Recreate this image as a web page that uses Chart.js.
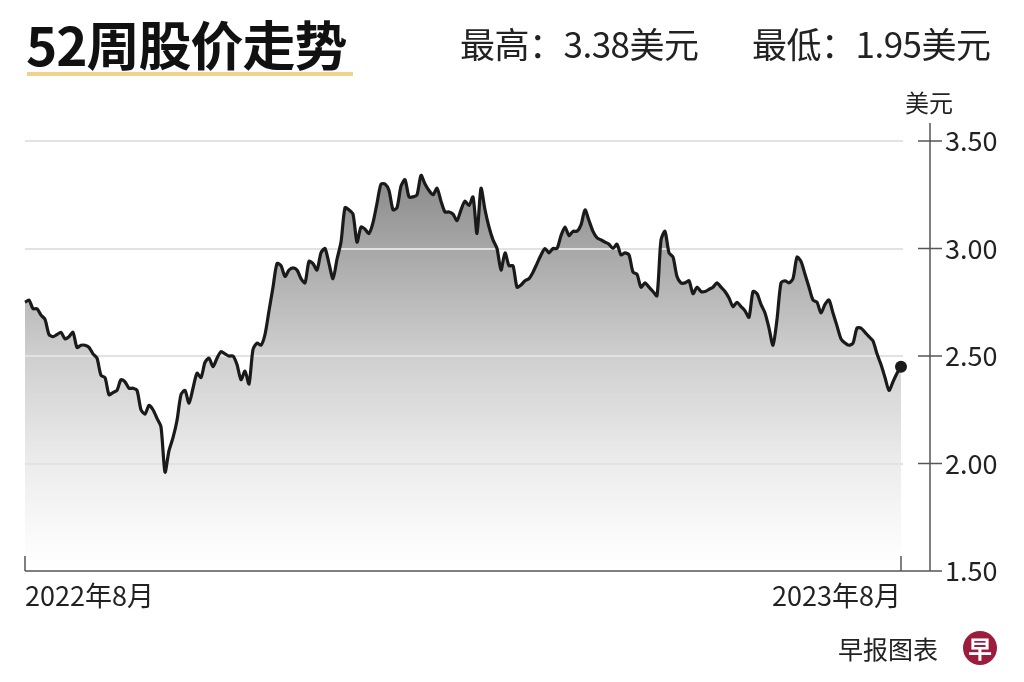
<!DOCTYPE html>
<html>
<head>
<meta charset="utf-8">
<script src="https://cdn.jsdelivr.net/npm/chart.js@4"></script>
<style>
    body { margin: 0; background: #fff; }
    #wrap { position: relative; width: 1024px; height: 682px; overflow: hidden; font-family: "Liberation Sans Narrow", "Noto Sans CJK SC", sans-serif; color: #222; }
    #chart { position: absolute; left: 0; top: 0; }
    .title { position: absolute; left: 26px; top: 5px; font: bold 53px "Noto Sans CJK SC", sans-serif; color: #111; letter-spacing: -1px; }
    .bar { position: absolute; left: 27px; top: 72px; width: 326px; height: 4px; background: #f1d48c; }
    .stat { position: absolute; top: 17px; font-size: 35px; letter-spacing: -0.5px; }
    .unit { position: absolute; left: 905px; top: 84px; font-size: 24px; }
    .credit { position: absolute; left: 838px; top: 630px; font-size: 25px; }
    .logo { position: absolute; left: 963px; top: 631px; width: 34px; height: 34px; border-radius: 50%; background: #9b1c3d; color: #fff; font: bold 24px "Noto Sans CJK SC", sans-serif; text-align: center; line-height: 34px; }
</style>
</head>
<body>
<div id="wrap">
    <canvas id="chart" width="1024" height="682"></canvas>
    <div class="title">52周股价走势</div>
    <div class="bar"></div>
    <div class="stat" style="left:460px">最高：3.38美元</div>
    <div class="stat" style="left:752px">最低：1.95美元</div>
    <div class="unit">美元</div>
    <div class="credit">早报图表</div>
    <div class="logo">早</div>
</div>
<script>
    // daily closing price, Aug 2022 -> Aug 2023
    let prices = [
        2.75, 2.76, 2.72, 2.72, 2.69, 2.67, 2.60, 2.59, 2.60, 2.61,
        2.58, 2.59, 2.61, 2.54, 2.55, 2.55, 2.54, 2.51, 2.49, 2.41,
        2.40, 2.32, 2.33, 2.34, 2.39, 2.38, 2.35, 2.35, 2.34, 2.25,
        2.23, 2.27, 2.25, 2.21, 2.17, 1.96, 2.06, 2.12, 2.20, 2.32,
        2.34, 2.28, 2.35, 2.42, 2.40, 2.47, 2.49, 2.45, 2.49, 2.52,
        2.51, 2.50, 2.50, 2.46, 2.39, 2.43, 2.37, 2.53, 2.56, 2.55,
        2.60, 2.71, 2.82, 2.93, 2.92, 2.87, 2.90, 2.91, 2.90, 2.86,
        2.84, 2.94, 2.93, 2.90, 2.98, 3.00, 2.93, 2.86, 2.95, 3.03,
        3.19, 3.18, 3.16, 3.03, 3.10, 3.09, 3.07, 3.12, 3.21, 3.30,
        3.30, 3.27, 3.18, 3.19, 3.29, 3.32, 3.24, 3.24, 3.25, 3.34,
        3.30, 3.27, 3.25, 3.28, 3.22, 3.17, 3.17, 3.16, 3.13, 3.18,
        3.22, 3.20, 3.24, 3.07, 3.28, 3.18, 3.10, 3.04, 3.00, 2.90,
        2.98, 2.92, 2.92, 2.82, 2.83, 2.85, 2.86, 2.89, 2.93, 2.97,
        3.00, 2.98, 3.00, 3.00, 3.06, 3.10, 3.06, 3.08, 3.08, 3.11,
        3.18, 3.13, 3.08, 3.05, 3.04, 3.03, 3.02, 3.00, 3.02, 2.97,
        2.98, 2.97, 2.89, 2.88, 2.82, 2.84, 2.82, 2.80, 2.78, 3.04,
        3.08, 2.98, 2.96, 2.87, 2.84, 2.84, 2.85, 2.79, 2.82, 2.80,
        2.80, 2.81, 2.82, 2.84, 2.82, 2.80, 2.77, 2.73, 2.75, 2.73,
        2.71, 2.68, 2.80, 2.79, 2.74, 2.70, 2.63, 2.55, 2.67, 2.84,
        2.85, 2.84, 2.86, 2.96, 2.94, 2.88, 2.82, 2.76, 2.75, 2.70,
        2.74, 2.76, 2.70, 2.64, 2.58, 2.56, 2.55, 2.56, 2.63, 2.63,
        2.61, 2.59, 2.57, 2.51, 2.46, 2.40, 2.34, 2.38, 2.42, 2.45
    ];
    let days = prices.map((p, i) => i);
    let tickLabels = ['2022年8月', '2023年8月'];
    let yTicks = [1.5, 2.0, 2.5, 3.0, 3.5];

    let fontFamily = '"Liberation Sans Narrow", "Noto Sans CJK SC", sans-serif';

    // gridlines over the fill, then the custom axes on the right/bottom
    let axesPlugin = {
        id: 'axes',
        beforeDatasetDraw(chart) {
            let c = chart.ctx;
            let area = chart.chartArea;
            let y = chart.scales.y;
            c.save();
            c.strokeStyle = '#e2e2e2';
            c.lineWidth = 2;
            yTicks.forEach(v => {
                if (v <= y.min) return;
                let py = Math.round(y.getPixelForValue(v));
                c.beginPath();
                c.moveTo(area.left, py);
                c.lineTo(area.right + 2, py);
                c.stroke();
            });
            c.restore();
        },
        afterDraw(chart) {
            let c = chart.ctx;
            let area = chart.chartArea;
            let x = chart.scales.x;
            let y = chart.scales.y;
            let axisX = area.right + 29;
            c.save();
            c.strokeStyle = '#555';
            c.lineWidth = 1.5;
            c.beginPath();
            c.moveTo(axisX, area.top - 18);
            c.lineTo(axisX, area.bottom);
            c.moveTo(area.left, area.bottom);
            c.lineTo(axisX + 12, area.bottom);
            yTicks.forEach(v => {
                let py = y.getPixelForValue(v);
                c.moveTo(axisX - 12, py);
                c.lineTo(axisX + 12, py);
            });
            [0, prices.length - 1].forEach(i => {
                let px = x.getPixelForValue(i);
                c.moveTo(px, area.bottom);
                c.lineTo(px, area.bottom - 15);
            });
            c.stroke();
            c.restore();
        }
    };

    let chart = new Chart(document.getElementById('chart'), {
        type: 'line',
        data: {
            labels: days,
            datasets: [{
                data: prices,
                borderColor: '#1a1a1a',
                borderWidth: 3.2,
                tension: 0.25,
                fill: 'origin',
                backgroundColor: (ctx) => {
                    let area = ctx.chart.chartArea;
                    if (!area) return '#ccc';
                    let g = ctx.chart.ctx.createLinearGradient(0, area.top, 0, area.bottom);
                    g.addColorStop(0, '#7c7c7c');
                    g.addColorStop(0.08, '#8a8a8a');
                    g.addColorStop(0.25, '#a7a7a7');
                    g.addColorStop(0.5, '#cfcfcf');
                    g.addColorStop(0.75, '#ececec');
                    g.addColorStop(0.93, '#fbfbfb');
                    g.addColorStop(1, '#ffffff');
                    return g;
                },
                pointRadius: (ctx) => ctx.dataIndex === prices.length - 1 ? 6 : 0,
                pointBackgroundColor: '#1a1a1a',
                pointBorderWidth: 0,
            }]
        },
        options: {
            responsive: false,
            animation: false,
            layout: {
                padding: { left: 25, top: 141, right: 0, bottom: 0 }
            },
            plugins: {
                legend: { display: false },
                tooltip: { enabled: false },
                filler: { drawTime: 'beforeDatasetDraw' }
            },
            scales: {
                x: {
                    grid: { display: false, drawTicks: false },
                    border: { display: false },
                    afterFit: (scale) => { scale.height = 111; },
                    ticks: {
                        autoSkip: false,
                        maxRotation: 0,
                        align: 'inner',
                        padding: 9,
                        color: '#222',
                        font: { family: fontFamily, size: 27 },
                        callback: (v, i) => {
                            if (i === 0) return tickLabels[0];
                            if (i === prices.length - 1) return tickLabels[1];
                            return '';
                        }
                    }
                },
                y: {
                    position: 'right',
                    min: 1.5,
                    max: 3.5,
                    grid: { display: false, drawTicks: false },
                    border: { display: false },
                    afterFit: (scale) => { scale.width = 123; },
                    ticks: {
                        stepSize: 0.5,
                        padding: 44,
                        color: '#222',
                        font: { family: fontFamily, size: 27 },
                        callback: (v) => v.toFixed(2)
                    }
                }
            }
        },
        plugins: [axesPlugin]
    });
</script>
</body>
</html>
